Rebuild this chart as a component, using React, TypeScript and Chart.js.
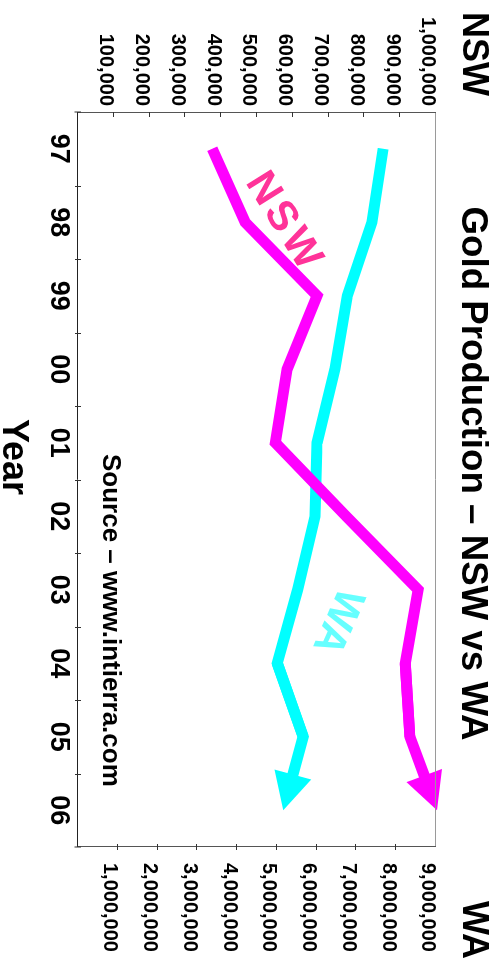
import React, { useEffect, useRef } from 'react';
import { Chart, registerables } from 'chart.js';

Chart.register(...registerables);

const years = ['97', '98', '99', '00', '01', '02', '03', '04', '05', '06'];
const nswProduction = [375000, 467000, 668000, 584000, 551000, 749000, 950000, 914000, 927000, 1003000];
const waProduction = [7670000, 7390000, 6770000, 6460000, 6010000, 5960000, 5520000, 5010000, 5660000, 5160000];
const nswTickValues = [100000, 200000, 300000, 400000, 500000, 600000, 700000, 800000, 900000, 1000000];
const waTickValues = [1000000, 2000000, 3000000, 4000000, 5000000, 6000000, 7000000, 8000000, 9000000];
const chartTitle = 'Gold Production – NSW vs WA';
const nswAxisTitle = 'NSW';
const waAxisTitle = 'WA';
const yearAxisTitle = 'Year';
const sourceNote = 'Source – www.intierra.com';
const nswLabel = 'NSW';
const waLabel = 'WA';

const FONT = '"Liberation Sans", Arial, Helvetica, sans-serif';
const NARROW_FONT = '"Liberation Sans Narrow", "Arial Narrow", "Liberation Sans", Arial, sans-serif';
const NSW_COLOR = '#FF00FF';
const WA_COLOR = '#00FFFF';
const W = 961;
const H = 501;

function fmt(v: number) {
  return v.toLocaleString('en-US');
}

const decorPlugin = {
  id: 'decor',
  afterDatasetsDraw(chart: any) {
    const { ctx, chartArea } = chart;
    const { left, right, top, bottom } = chartArea;

    const drawArrow = (meta: any, color: string) => {
      const pts = meta.data;
      const n = pts.length;
      const a = pts[n - 3];
      const b = pts[n - 2];
      const tip = pts[n - 1];
      const dx = tip.x - b.x;
      const dy = tip.y - b.y;
      const len = Math.hypot(dx, dy);
      const ux = dx / len;
      const uy = dy / len;
      const headLen = 37;
      const headHalf = 19;
      const bx = tip.x - ux * headLen;
      const by = tip.y - uy * headLen;
      ctx.save();
      ctx.strokeStyle = color;
      ctx.lineWidth = 11;
      ctx.lineJoin = 'miter';
      ctx.lineCap = 'butt';
      ctx.beginPath();
      ctx.moveTo(a.x, a.y);
      ctx.lineTo(b.x, b.y);
      ctx.lineTo(bx + ux * 3, by + uy * 3);
      ctx.stroke();
      ctx.fillStyle = color;
      ctx.beginPath();
      ctx.moveTo(tip.x, tip.y);
      ctx.lineTo(bx - uy * headHalf, by + ux * headHalf);
      ctx.lineTo(bx + uy * headHalf, by - ux * headHalf);
      ctx.closePath();
      ctx.fill();
      ctx.restore();
    };
    drawArrow(chart.getDatasetMeta(0), NSW_COLOR);
    drawArrow(chart.getDatasetMeta(1), WA_COLOR);

    // borders
    ctx.save();
    ctx.lineWidth = 1;
    ctx.strokeStyle = '#9a9a9a';
    ctx.beginPath();
    ctx.moveTo(left, top + 0.5);
    ctx.lineTo(right, top + 0.5);
    ctx.stroke();
    ctx.strokeStyle = '#555';
    ctx.beginPath();
    ctx.moveTo(left + 0.5, top);
    ctx.lineTo(left + 0.5, bottom);
    ctx.moveTo(right - 0.5, top);
    ctx.lineTo(right - 0.5, bottom);
    ctx.stroke();
    ctx.strokeStyle = '#222';
    ctx.beginPath();
    ctx.moveTo(left, bottom + 0.5);
    ctx.lineTo(right, bottom + 0.5);
    ctx.stroke();

    // tick marks
    const xs = chart.scales.x;
    const yN = chart.scales.yNSW;
    const yW = chart.scales.yWA;
    ctx.strokeStyle = '#333';
    ctx.beginPath();
    for (let i = 0; i < years.length - 1; i++) {
      const px = Math.round((xs.getPixelForValue(i) + xs.getPixelForValue(i + 1)) / 2) + 0.5;
      ctx.moveTo(px, bottom - 3);
      ctx.lineTo(px, bottom + 3);
    }
    ctx.moveTo(left, bottom + 3.5);
    ctx.lineTo(left, bottom - 3);
    ctx.moveTo(right, bottom + 3.5);
    ctx.lineTo(right, bottom - 3);
    nswTickValues.slice(0, -1).forEach((v) => {
      const py = Math.round(yN.getPixelForValue(v)) + 0.5;
      ctx.moveTo(left, py);
      ctx.lineTo(left + 5, py);
    });
    waTickValues.slice(0, -1).forEach((v) => {
      const py = Math.round(yW.getPixelForValue(v)) + 0.5;
      ctx.moveTo(right - 3, py);
      ctx.lineTo(right + 3, py);
    });
    ctx.stroke();
    ctx.restore();

    // texts
    ctx.save();
    ctx.fillStyle = '#000';
    ctx.textBaseline = 'alphabetic';
    ctx.font = `bold 36px ${FONT}`;
    ctx.textAlign = 'left';
    ctx.fillText(nswAxisTitle, 12, 38);
    ctx.textAlign = 'right';
    ctx.fillText(waAxisTitle, 959, 38);
    ctx.textAlign = 'center';
    ctx.fillText(yearAxisTitle, 457, 498);
    ctx.font = `bold 36.7px ${FONT}`;
    ctx.fillText(chartTitle, 473.5, 39);
    ctx.textAlign = 'left';
    ctx.font = `bold 26px ${FONT}`;
    ctx.fillText(sourceNote, 454, 398);

    // series labels
    ctx.font = `bold 42px ${FONT}`;
    (ctx as any).letterSpacing = '4px';
    ctx.fillStyle = '#FF3399';
    ctx.save();
    ctx.translate(221, 218);
    ctx.rotate((-32 * Math.PI) / 180);
    ctx.textAlign = 'center';
    ctx.textBaseline = 'middle';
    ctx.fillText(nswLabel, 2, 0);
    ctx.restore();
    (ctx as any).letterSpacing = '0px';
    ctx.font = `bold 42px ${FONT}`;
    ctx.fillStyle = '#66FFFF';
    ctx.save();
    ctx.translate(621, 164);
    ctx.rotate((24 * Math.PI) / 180);
    ctx.textAlign = 'center';
    ctx.textBaseline = 'middle';
    ctx.fillText(waLabel, 0, 0);
    ctx.restore();
    ctx.restore();
  },
};

function ChartView() {
  const canvasRef = useRef<HTMLCanvasElement | null>(null);

  useEffect(() => {
    const canvas = canvasRef.current;
    if (!canvas) return;
    const last = years.length - 1;
    const tickFont = { family: FONT, size: 20, weight: 'bold' };
    const chart = new Chart(canvas, {
      type: 'line',
      data: {
        labels: years,
        datasets: [
          {
            label: 'NSW',
            data: nswProduction,
            yAxisID: 'yNSW',
            borderColor: NSW_COLOR,
            borderWidth: 11,
            pointRadius: 0,
            tension: 0,
            fill: false,
            clip: false as any,
            borderJoinStyle: 'miter',
            segment: {
              borderColor: (c: any) => (c.p1DataIndex === last ? 'rgba(0,0,0,0)' : undefined),
            },
          },
          {
            label: 'WA',
            data: waProduction,
            yAxisID: 'yWA',
            borderColor: WA_COLOR,
            borderWidth: 11,
            pointRadius: 0,
            tension: 0,
            fill: false,
            clip: false as any,
            borderJoinStyle: 'miter',
            segment: {
              borderColor: (c: any) => (c.p1DataIndex === last ? 'rgba(0,0,0,0)' : undefined),
            },
          },
        ],
      },
      options: {
        responsive: false,
        animation: false,
        devicePixelRatio: 1,
        layout: { padding: { top: 65, left: 0, right: 0, bottom: 0 } },
        plugins: {
          legend: { display: false },
          title: { display: false },
          tooltip: { enabled: false },
        },
        scales: {
          x: {
            type: 'category',
            offset: true,
            grid: { display: false, drawTicks: false },
            border: { display: false },
            ticks: {
              color: '#000',
              font: { family: NARROW_FONT, size: 27, weight: 'bold' },
              padding: 3,
              maxRotation: 0,
              autoSkip: false,
            },
            afterFit: (s: any) => {
              s.height = 78;
            },
          },
          yNSW: {
            type: 'linear',
            position: 'left',
            min: 0,
            max: 1000000,
            grid: { display: false, drawTicks: false },
            border: { display: false },
            afterBuildTicks: (s: any) => {
              s.ticks = nswTickValues.map((v) => ({ value: v }));
            },
            ticks: {
              color: '#000',
              font: tickFont,
              padding: 6,
              labelOffset: 8,
              autoSkip: false,
              callback: (v: any) => fmt(Number(v)),
            },
            afterFit: (s: any) => {
              s.width = 112;
            },
          },
          yWA: {
            type: 'linear',
            position: 'right',
            min: 0,
            max: 9000000,
            grid: { display: false, drawTicks: false },
            border: { display: false },
            afterBuildTicks: (s: any) => {
              s.ticks = waTickValues.map((v) => ({ value: v }));
            },
            ticks: {
              color: '#000',
              font: tickFont,
              padding: 16,
              labelOffset: 8,
              autoSkip: false,
              callback: (v: any) => fmt(Number(v)),
            },
            afterFit: (s: any) => {
              s.width = 114;
            },
          },
        },
      } as any,
      plugins: [decorPlugin],
    });
    return () => chart.destroy();
  }, []);

  return <canvas ref={canvasRef} width={W} height={H} style={{ width: W, height: H, display: 'block' }} />;
}

export default function App() {
  return (
    <div
      style={{
        position: 'fixed',
        left: 0,
        top: 0,
        width: 501,
        height: 961,
        overflow: 'hidden',
        background: '#fff',
      }}
    >
      <div
        style={{
          position: 'absolute',
          left: 0,
          top: 0,
          width: W,
          height: H,
          transformOrigin: '0 0',
          transform: 'translate(501px, 0px) rotate(90deg)',
        }}
      >
        <ChartView />
      </div>
    </div>
  );
}
